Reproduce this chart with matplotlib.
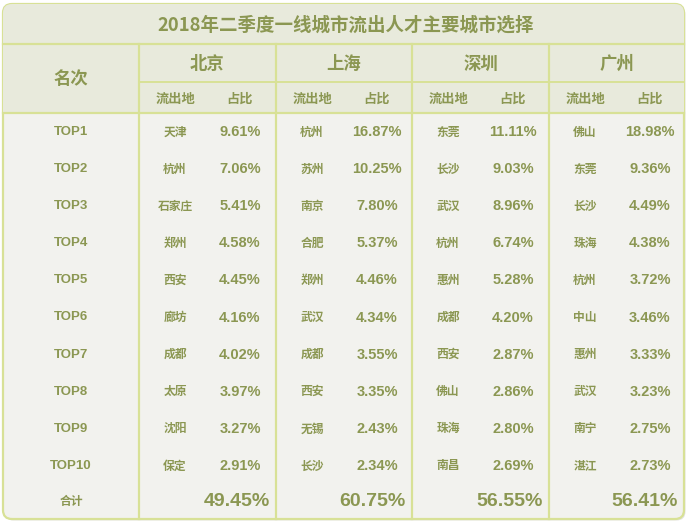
import matplotlib.pyplot as plt
from matplotlib.patches import FancyBboxPatch, Rectangle

title = "2018年二季度一线城市流出人才主要城市选择"
cities = ["北京", "上海", "深圳", "广州"]
ranks = ["TOP1", "TOP2", "TOP3", "TOP4", "TOP5", "TOP6", "TOP7", "TOP8", "TOP9", "TOP10"]

bj_src = ["天津", "杭州", "石家庄", "郑州", "西安", "廊坊", "成都", "太原", "沈阳", "保定"]
bj_pct = [9.61, 7.06, 5.41, 4.58, 4.45, 4.16, 4.02, 3.97, 3.27, 2.91]
sh_src = ["杭州", "苏州", "南京", "合肥", "郑州", "武汉", "成都", "西安", "无锡", "长沙"]
sh_pct = [16.87, 10.25, 7.80, 5.37, 4.46, 4.34, 3.55, 3.35, 2.43, 2.34]
sz_src = ["东莞", "长沙", "武汉", "杭州", "惠州", "成都", "西安", "佛山", "珠海", "南昌"]
sz_pct = [11.11, 9.03, 8.96, 6.74, 5.28, 4.20, 2.87, 2.86, 2.80, 2.69]
gz_src = ["佛山", "东莞", "长沙", "珠海", "杭州", "中山", "惠州", "武汉", "南宁", "湛江"]
gz_pct = [18.98, 9.36, 4.49, 4.38, 3.72, 3.46, 3.33, 3.23, 2.75, 2.73]
totals = [49.45, 60.75, 56.55, 56.41]

sources = [bj_src, sh_src, sz_src, gz_src]
shares = [bj_pct, sh_pct, sz_pct, gz_pct]

CJK = ["Noto Sans CJK SC", "DejaVu Sans"]
NUM = ["Liberation Sans", "DejaVu Sans"]
TXT = "#8b9752"
LINE = "#d8e196"
BG_HEAD = "#e8eadc"
BG_BODY = "#f2f2ee"

# табличная сетка в пикселях
left, right, top, bottom = 3, 684, 4, 519
title_bottom, header_mid, header_bottom = 44, 82, 113
col_edges = [3, 139, 276, 412, 549, 684]
row_first, row_step = 131, 37.1
total_y = 501

fig = plt.figure(figsize=(6.91, 5.24), dpi=100)
ax = fig.add_axes([0, 0, 1, 1])
ax.set_xlim(0, 691)
ax.set_ylim(524, 0)
ax.axis("off")

# тень и рамка
shadow = FancyBboxPatch((left + 1.5, top + 1.5), right - left, bottom - top,
                        boxstyle="round,pad=0,rounding_size=9",
                        fc="#c8c8c0", ec="none", alpha=0.5, zorder=0)
ax.add_patch(shadow)
box = FancyBboxPatch((left, top), right - left, bottom - top,
                     boxstyle="round,pad=0,rounding_size=9",
                     fc=BG_BODY, ec=LINE, lw=1.6, zorder=1)
ax.add_patch(box)

head = Rectangle((left, top), right - left, header_bottom - top, fc=BG_HEAD, ec="none", zorder=1.5)
ax.add_patch(head)
head.set_clip_path(box)

# линии
ax.plot([left, right], [title_bottom, title_bottom], color=LINE, lw=1.6, zorder=2)
ax.plot([left, right], [header_bottom, header_bottom], color=LINE, lw=1.6, zorder=2)
ax.plot([col_edges[1], right], [header_mid, header_mid], color=LINE, lw=1.4, zorder=2)
for x in col_edges[1:-1]:
    ax.plot([x, x], [title_bottom, bottom], color=LINE, lw=1.6, zorder=2)

ax.text((left + right) / 2 + 2, (top + title_bottom) / 2 + 1, title, family=CJK,
        fontsize=13.3, fontweight="bold", color=TXT, ha="center", va="center", zorder=3)
ax.text((col_edges[0] + col_edges[1]) / 2, (title_bottom + header_bottom) / 2 + 1, "名次",
        family=CJK, fontsize=12.5, fontweight="bold", color=TXT, ha="center", va="center", zorder=3)

for ci, city in enumerate(cities):
    x0, x1 = col_edges[ci + 1], col_edges[ci + 2]
    ax.text((x0 + x1) / 2, (title_bottom + header_mid) / 2 + 1, city, family=CJK,
            fontsize=12.5, fontweight="bold", color=TXT, ha="center", va="center", zorder=3)
    ax.text(x0 + 36, (header_mid + header_bottom) / 2 + 1, "流出地", family=CJK,
            fontsize=9.5, fontweight="bold", color=TXT, ha="center", va="center", zorder=3)
    ax.text(x0 + 101, (header_mid + header_bottom) / 2 + 1, "占比", family=CJK,
            fontsize=9.5, fontweight="bold", color=TXT, ha="center", va="center", zorder=3)
    for ri in range(len(ranks)):
        y = row_first + ri * row_step + 1
        ax.text(x0 + 36, y, sources[ci][ri], family=CJK, fontsize=8.5, fontweight="bold",
                color=TXT, ha="center", va="center", zorder=3)
        ax.text(x0 + 101, y, f"{shares[ci][ri]:.2f}%", family=NUM, fontsize=10.5,
                fontweight="bold", color=TXT, ha="center", va="center", zorder=3)
    ax.text(x1 - 6, total_y, f"{totals[ci]:.2f}%", family=NUM, fontsize=14,
            fontweight="bold", color=TXT, ha="right", va="center", zorder=3)

for ri, r in enumerate(ranks):
    ax.text((col_edges[0] + col_edges[1]) / 2, row_first + ri * row_step + 1, r, family=NUM,
            fontsize=9.5, fontweight="bold", color=TXT, ha="center", va="center", zorder=3)
ax.text((col_edges[0] + col_edges[1]) / 2, total_y, "合计", family=CJK, fontsize=8.5,
        fontweight="bold", color=TXT, ha="center", va="center", zorder=3)

fig.savefig("out.png", dpi=100, facecolor="white")
